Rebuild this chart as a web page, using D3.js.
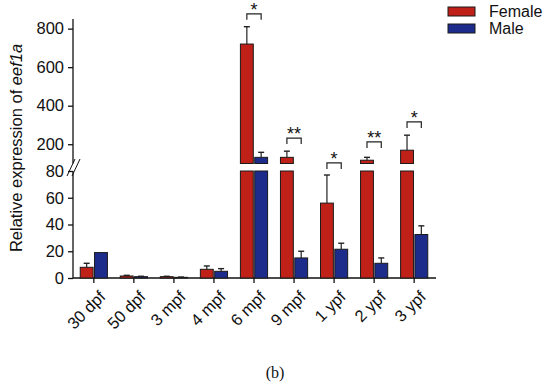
<!DOCTYPE html>
<html>
<head>
<meta charset="utf-8">
<script src="https://cdn.jsdelivr.net/npm/d3@7/dist/d3.min.js"></script>
<style>
  body { margin: 0; background: #fff; }
  text { font-family: Arial, "Liberation Sans", sans-serif; }
</style>
</head>
<body>
<div id="chart"></div>
<script>
// Data
const categories = ['30 dpf', '50 dpf', '3 mpf', '4 mpf', '6 mpf', '9 mpf', '1 ypf', '2 ypf', '3 ypf'];
const female = [8, 1.5, 1, 6.5, 720, 132, 56, 117, 169];
const femaleErr = [3, 0.5, 0.3, 2.5, 90, 32, 21, 15, 78];
const male = [19, 1, 0.5, 5, 132, 15, 21.5, 11, 32.5];
const maleErr = [0, 0.3, 0.2, 2, 26, 5, 4.5, 4, 6.5];
const signif = ['', '', '', '', '*', '**', '*', '**', '*'];
const signifAt = [null, null, null, null, 877, 232, 103, 212, 316];
const lowTicks = [0, 20, 40, 60, 80];
const highTicks = [200, 400, 600, 800];

const width = 550, height = 386;
const femaleColor = '#bf2119', maleColor = '#1d2c8a';

const svg = d3.select('#chart').append('svg')
  .attr('width', width)
  .attr('height', height);

const x = d3.scaleBand()
  .domain(categories)
  .range([74, 434])
  .paddingInner(0.25)
  .paddingOuter(0.12);

const xSub = d3.scaleBand()
  .domain(['f', 'm'])
  .range([0, x.bandwidth()])
  .padding(0.1);

// broken y axis: two segments
const yLow = d3.scaleLinear().domain([0, 80]).range([278, 171]);
const yHigh = d3.scaleLinear().domain([100, 850]).range([163.5, 19]);

svg.append('g')
  .attr('transform', 'translate(73,0)')
  .call(d3.axisLeft(yLow).tickValues(lowTicks).tickSize(5).tickPadding(4).tickSizeOuter(0))
  .call(g => g.select('.domain').attr('d', `M0,${yLow(0)}V${yLow.range()[1]}`));

svg.append('g')
  .attr('transform', 'translate(73,0)')
  .call(d3.axisLeft(yHigh).tickValues(highTicks).tickSize(5).tickPadding(4).tickSizeOuter(0))
  .call(g => g.select('.domain').attr('d', `M0,${yHigh.range()[0]}V${yHigh.range()[1]}`));

svg.selectAll('.tick text')
  .style('font-size', '16.5px')
  .attr('fill', '#111');

// break marks
[0, 5].forEach(dx => {
  svg.append('line')
    .attr('x1', 67 + dx).attr('y1', 176)
    .attr('x2', 75 + dx).attr('y2', 159)
    .attr('stroke', '#111')
    .attr('stroke-width', 1);
});

// x axis
const xAxis = svg.append('g')
  .attr('transform', `translate(0,${yLow(0)})`)
  .call(d3.axisBottom(x).tickSize(5).tickSizeOuter(0));
xAxis.select('.domain').attr('d', `M73,0H436`);
xAxis.selectAll('text')
  .style('font-size', '16.5px')
  .attr('fill', '#111')
  .attr('text-anchor', 'end')
  .attr('dy', '0.35em')
  .attr('transform', 'translate(3,10) rotate(-45)');

svg.selectAll('.domain, .tick line').attr('stroke', '#111').attr('stroke-width', 1.3);

// bars
const series = [
  { key: 'f', vals: female, errs: femaleErr, color: femaleColor },
  { key: 'm', vals: male, errs: maleErr, color: maleColor }
];

function yOf(v) {
  return v <= 80 ? yLow(v) : yHigh(v);
}

series.forEach(s => {
  categories.forEach((c, i) => {
    const v = s.vals[i];
    const bx = x(c) + xSub(s.key);
    const bw = xSub.bandwidth();
    const lowTop = yLow(Math.min(v, 80));
    svg.append('rect')
      .attr('x', bx).attr('y', lowTop)
      .attr('width', bw).attr('height', yLow(0) - lowTop)
      .attr('fill', s.color)
      .attr('stroke', '#1a1a1a').attr('stroke-width', 1);
    if (v > 100) {
      svg.append('rect')
        .attr('x', bx).attr('y', yHigh(v))
        .attr('width', bw).attr('height', yHigh(100) - yHigh(v))
        .attr('fill', s.color)
        .attr('stroke', '#1a1a1a').attr('stroke-width', 1);
    }
    const e = s.errs[i];
    if (e > 0) {
      const cx = bx + bw / 2;
      const top = yOf(v + e);
      svg.append('line')
        .attr('x1', cx).attr('x2', cx)
        .attr('y1', yOf(v)).attr('y2', top)
        .attr('stroke', '#222').attr('stroke-width', 1.2);
      svg.append('line')
        .attr('x1', cx - 3).attr('x2', cx + 3)
        .attr('y1', top).attr('y2', top)
        .attr('stroke', '#222').attr('stroke-width', 1.4);
    }
  });
});

// significance brackets
categories.forEach((c, i) => {
  if (!signif[i]) return;
  const x1 = x(c) + xSub('f') + xSub.bandwidth() / 2;
  const x2 = x(c) + xSub('m') + xSub.bandwidth() / 2;
  const y = yHigh(signifAt[i]);
  svg.append('path')
    .attr('d', `M${x1},${y + 6}V${y}H${x2}V${y + 6}`)
    .attr('fill', 'none')
    .attr('stroke', '#222').attr('stroke-width', 1.2);
  svg.append('text')
    .attr('x', (x1 + x2) / 2)
    .attr('y', y + 2)
    .attr('text-anchor', 'middle')
    .style('font-size', '18px')
    .attr('fill', '#111')
    .text(signif[i]);
});

// y title
const title = svg.append('text')
  .attr('transform', 'translate(22,148) rotate(-90)')
  .attr('text-anchor', 'middle')
  .style('font-size', '16.5px')
  .attr('fill', '#111');
title.append('tspan').text('Relative expression of ');
title.append('tspan').attr('font-style', 'italic').text('eef1a');

// legend
const legend = svg.append('g');
[['Female', femaleColor], ['Male', maleColor]].forEach(([name, color], i) => {
  legend.append('rect')
    .attr('x', 448).attr('y', 7 + i * 17)
    .attr('width', 27).attr('height', 9)
    .attr('fill', color)
    .attr('stroke', '#1a1a1a').attr('stroke-width', 1);
  legend.append('text')
    .attr('x', 489).attr('y', 17 + i * 17)
    .style('font-size', '16px')
    .attr('fill', '#111')
    .text(name);
});

// caption
svg.append('text')
  .attr('x', 275).attr('y', 378)
  .attr('text-anchor', 'middle')
  .style('font-family', '"Liberation Serif", "DejaVu Serif", serif')
  .style('font-size', '16px')
  .attr('fill', '#111')
  .text('(b)');
</script>
</body>
</html>
